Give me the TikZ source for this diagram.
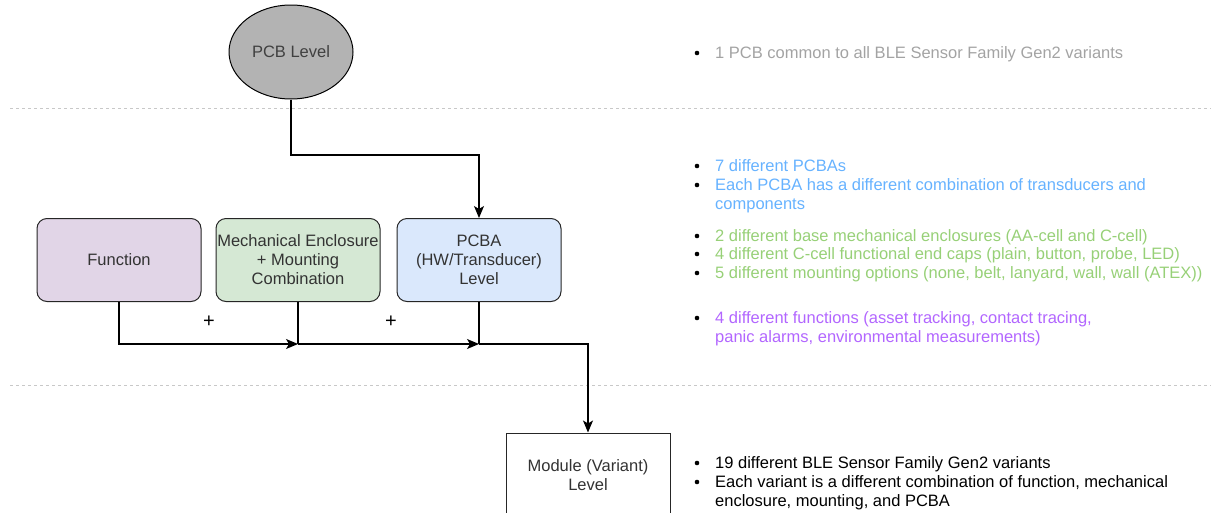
\documentclass[tikz,border=0pt]{standalone}
\usepackage{fontspec}
\setmainfont{Liberation Sans}
\usetikzlibrary{arrows.meta,shapes.geometric}
\definecolor{pcbgray}{HTML}{B3B3B3}
\definecolor{fnfill}{HTML}{E1D5E7}
\definecolor{mechfill}{HTML}{D5E8D4}
\definecolor{pcbafill}{HTML}{DAE8FC}
\definecolor{notegray}{HTML}{A3A3A3}
\definecolor{noteblue}{HTML}{66B2FF}
\definecolor{notegreen}{HTML}{97D077}
\definecolor{notepurple}{HTML}{B266FF}
\definecolor{sepgray}{HTML}{C8C8C8}
\tikzset{
  txt/.style={font=\fontsize{16.5}{19}\selectfont},
  level/.style={txt, draw=black!85, line width=1, text=black!80, align=center,
    minimum width=164, minimum height=83, inner sep=0, rounded corners=10},
  note/.style={txt, anchor=north west, align=left, inner sep=0},
  plus/.style={font=\fontsize{20}{20}\selectfont},
  arr/.style={line width=1.1, -{Stealth[length=12,width=10,inset=3]}},
  wire/.style={line width=1.1},
  sep/.style={sepgray, line width=0.9, dash pattern=on 3 off 3}
}
\newcommand{\Note}[4]{\fill (697,#2) circle[radius=2.3pt];
  \node[note, text=#1] (#3) at (715,{#2-7.8}) {\strut#4};}

\begin{document}
\begin{tikzpicture}[x=1pt, y=-1pt]
\useasboundingbox (0,0) rectangle (1211,512);

\draw[sep] (10,108) -- (1211,108);
\draw[sep] (10,385) -- (1211,385);

\node[txt, ellipse, draw=black, line width=1, fill=pcbgray, text=black!75,
  minimum width=124, minimum height=94, inner sep=0] (pcb) at (291,52) {PCB Level};

\node[level, fill=fnfill] (fn) at (119,260) {Function};
\node[level, fill=mechfill] (mech) at (298,260) {Mechanical Enclosure\\+ Mounting\\Combination};
\node[level, fill=pcbafill] (pcba) at (479,260) {PCBA\\(HW/Transducer)\\Level};
\node[level, rounded corners=0, fill=white, minimum height=84] (mod) at (588,475) {Module (Variant)\\Level};

\coordinate (J1) at (298,344);
\coordinate (J2) at (479,344);

\draw[arr] (pcb.south) -- (pcb.south |- 0,155) -| (pcba.north);
\draw[arr] (fn.south) |- (J1);
\draw[wire] (mech.south) -- (J1);
\draw[arr] (J1) -- (J2);
\draw[wire] (pcba.south) -- (J2);
\draw[arr] (J2) -| (mod.north);

\node[plus] (plus1) at (209,322) {+};
\node[plus] (plus2) at (391,322) {+};

\Note{notegray}{53}{n1}{1 PCB common to all BLE Sensor Family Gen2 variants}
\Note{noteblue}{166}{n2}{7 different PCBAs}
\Note{noteblue}{185}{n3}{Each PCBA has a different combination of transducers and\\components}
\Note{notegreen}{236}{n4}{2 different base mechanical enclosures (AA-cell and C-cell)}
\Note{notegreen}{254}{n5}{4 different C-cell functional end caps (plain, button, probe, LED)}
\Note{notegreen}{273}{n6}{5 different mounting options (none, belt, lanyard, wall, wall (ATEX))}
\Note{notepurple}{318}{n7}{4 different functions (asset tracking, contact tracing,\\panic alarms, environmental measurements)}
\Note{black}{463}{n8}{19 different BLE Sensor Family Gen2 variants}
\Note{black}{482}{n9}{Each variant is a different combination of function, mechanical\\enclosure, mounting, and PCBA}

\end{tikzpicture}
\end{document}
